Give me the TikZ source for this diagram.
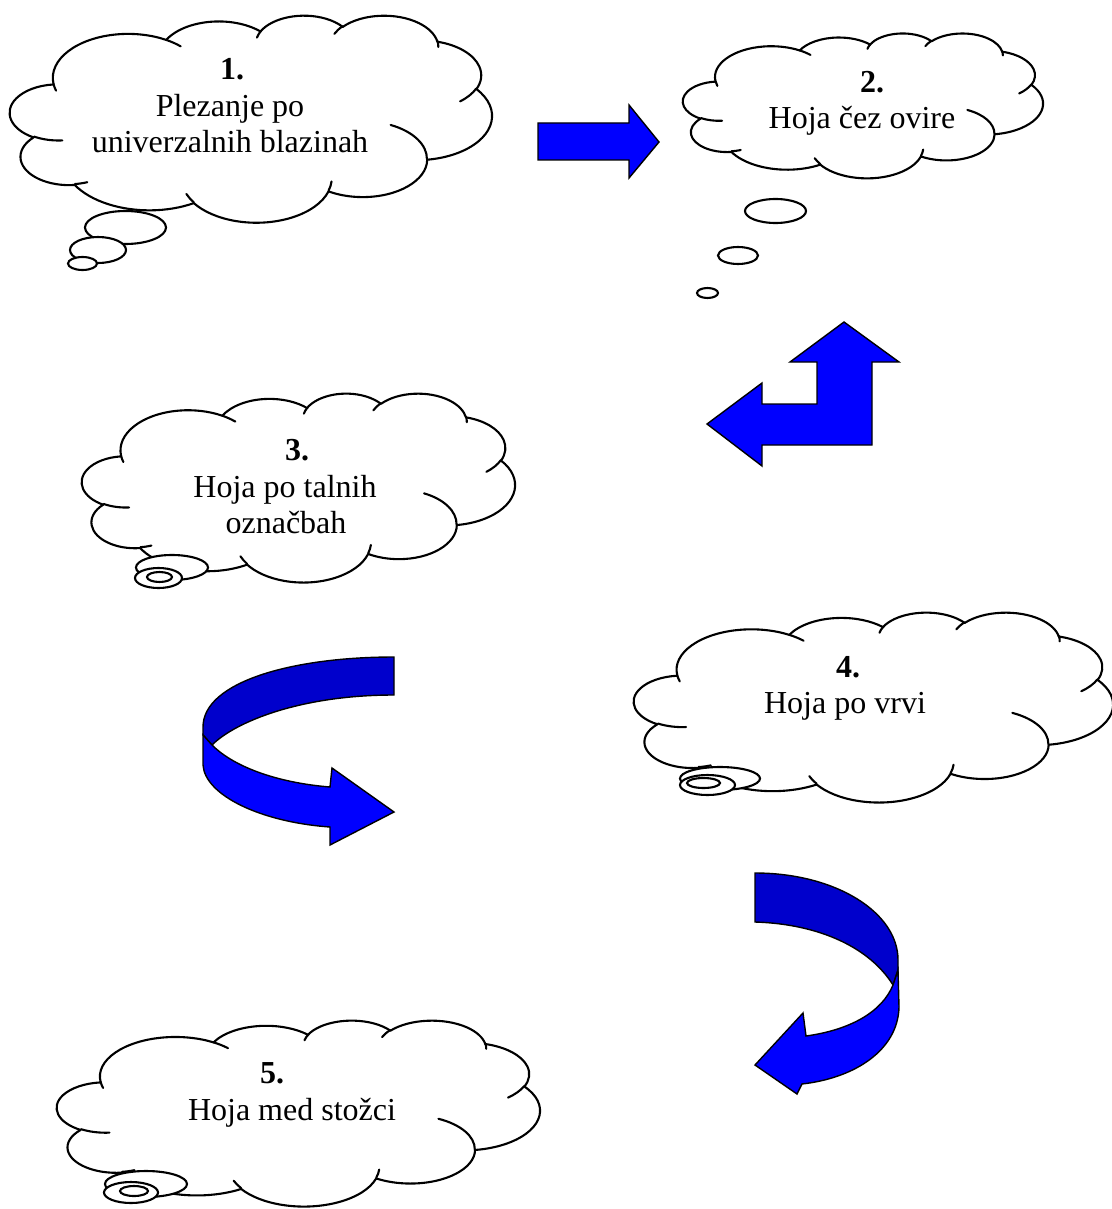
\documentclass[tikz,border=0pt]{standalone}
\usepackage{fontspec}
\setmainfont{Liberation Serif}
\definecolor{brightblue}{RGB}{0,0,255}
\definecolor{darkblue}{RGB}{0,0,204}
\tikzset{
  varc/.style n args={4}{x radius=#1, y radius=#2,
    start angle={atan2((#1/#2)*sin(#3),cos(#3))},
    delta angle={mod(atan2((#1/#2)*sin((#3)+(#4)),cos((#3)+(#4)))-atan2((#1/#2)*sin(#3),cos(#3))+720,360)}},
  cloudline/.style={draw=black, line width=2.1pt, fill=white, line join=round},
  cloudinner/.style={draw=black, line width=2.1pt, line cap=round},
  tailstyle/.style={draw=black, line width=2.1pt, fill=white},
  brightarrow/.style={draw=black, line width=1.4pt, fill=brightblue, line join=miter},
  darkarrow/.style={draw=black, line width=1.4pt, fill=darkblue, line join=miter},
  cloudtxt/.style={font=\fontsize{32}{36}\selectfont, anchor=base, inner sep=0pt},
  cloudnum/.style={font=\fontsize{32}{36}\selectfont\bfseries, anchor=base, inner sep=0pt}
}
% cloud outline in a 10800 x 10800 box (y downwards)
\newcommand{\cloudmainpath}{(975,3592.5)
  arc[varc={1688.25}{2297.5}{-190.48748}{123.78053}]
  arc[varc={1333.25}{1816.75}{-144.10238}{89.94523}]
  arc[varc={1091.25}{1486.25}{-145.80792}{99.72302}]
  arc[varc={1214.25}{1648.75}{-130.98607}{117.24173}]
  arc[varc={1333.25}{1818.25}{-78.70888}{109.02692}]
  arc[varc={1693.75}{2305}{-46.26725}{130.269}]
  arc[varc={1446.25}{1966.75}{0.62502}{114.03333}]
  arc[varc={1688}{2303.75}{22.4516}{115.17255}]
  arc[varc={1930}{2635.75}{66.24263}{75.71102}]
  arc[varc={1090}{1479.5}{-274.94208}{146.73557}]
  arc[varc={1086.25}{1486.25}{-246.8285}{152.51885}]
  -- cycle}
\newcommand{\cloudinnerpath}{
  (1173.25,6544.25) arc[varc={1086.25}{1486.25}{86.742}{26.4295}]
  (1732,8724.75) arc[varc={1090}{1479.5}{73.61047}{11.44747}]
  (4119.5,9772.5) arc[varc={1688}{2303.75}{137.62415}{14.0811}]
  (7206.75,8687.75) arc[varc={1688}{2303.75}{6.45327}{15.99835}]
  (8532.25,5738.5) arc[varc={1446.25}{1966.75}{-70.29235}{70.91737}]
  (10449.5,3838.5) arc[varc={1333.25}{1818.25}{30.31803}{27.7515}]
  (9581,1356.5) arc[varc={1214.25}{1648.75}{-13.74433}{14.8589}]
  (7269.5,988) arc[varc={1214.25}{1648.75}{-149.18145}{18.19537}]
  (5535.25,1180) arc[varc={1091.25}{1486.25}{-163.49427}{17.68635}]
  (3500,1298) arc[varc={1688.25}{2297.5}{-66.70695}{12.31935}]
  (1031.75,3947.25) arc[varc={1688.25}{2297.5}{157.65435}{11.85817}]}
\newcommand{\cloudat}[5]{%
  \pgfmathsetmacro\cloudw{#4/10800}%
  \pgfmathsetmacro\cloudh{#5/10800}%
  \begin{scope}[shift={(#2,#3)}, x=\cloudw pt, y=-\cloudh pt]
    \draw[cloudline] \cloudmainpath;
    \draw[cloudinner] \cloudinnerpath;
    \coordinate (#1) at (5400,5400);
  \end{scope}}
\begin{document}
\begin{tikzpicture}[x=1pt,y=-1pt]
\useasboundingbox (0,0) rectangle (1111,1209);

% clouds
\cloudat{c1}{10}{15}{482}{207}
\cloudat{c2}{683}{33}{360}{145}
\cloudat{c3}{82}{393}{433}{189}
\cloudat{c4}{634}{612}{479}{190}
\cloudat{c5}{57}{1020}{483}{186}

% tails
\draw[tailstyle] (125.5,227.5) ellipse [x radius=40.5, y radius=16.5];
\draw[tailstyle] (98,250) ellipse [x radius=28, y radius=13];
\draw[tailstyle] (82.5,263.5) ellipse [x radius=14.5, y radius=6.5];

\draw[tailstyle] (775.5,211) ellipse [x radius=30.5, y radius=12];
\draw[tailstyle] (738,255.5) ellipse [x radius=20, y radius=8.5];
\draw[tailstyle] (707.5,293) ellipse [x radius=10.5, y radius=5];

\draw[tailstyle] (172,567.5) ellipse [x radius=36, y radius=12.5];
\draw[tailstyle] (158.5,578) ellipse [x radius=23.5, y radius=10];
\draw[tailstyle] (159.5,577) ellipse [x radius=12.5, y radius=5];

\draw[tailstyle] (720,778.5) ellipse [x radius=40, y radius=11.5];
\draw[tailstyle] (707.5,785) ellipse [x radius=27.5, y radius=10];
\draw[tailstyle] (703.5,783) ellipse [x radius=16.5, y radius=5];

\draw[tailstyle] (146,1184) ellipse [x radius=41, y radius=13];
\draw[tailstyle] (131,1192.5) ellipse [x radius=27, y radius=10.5];
\draw[tailstyle] (134,1191) ellipse [x radius=14, y radius=5];

% texts
\node[cloudnum] (n1) at (232,80) {1.};
\node[cloudtxt] (t1a) at (230,117) {Plezanje po};
\node[cloudtxt] (t1b) at (230,153) {univerzalnih blazinah};

\node[cloudnum] (n2) at (872,93) {2.};
\node[cloudtxt] (t2a) at (862,129) {Hoja čez ovire};

\node[cloudnum] (n3) at (297,460) {3.};
\node[cloudtxt] (t3a) at (285,497) {Hoja po talnih};
\node[cloudtxt] (t3b) at (286,533) {označbah};

\node[cloudnum] (n4) at (848,677) {4.};
\node[cloudtxt] (t4a) at (845,713) {Hoja po vrvi};

\node[cloudnum] (n5) at (272,1083) {5.};
\node[cloudtxt] (t5a) at (292,1120) {Hoja med stožci};

% straight arrow
\draw[brightarrow] (538,123) -- (629,123) -- (629,105) -- (659,142) -- (629,178) -- (629,160) -- (538,160) -- cycle;

% bent arrow
\draw[brightarrow] (844,322) -- (899,362) -- (872,362) -- (872,445) -- (762,445) -- (762,466) -- (707,424) -- (762,383) -- (762,404) -- (817,404) -- (817,362) -- (790,362) -- cycle;

% curved arrow (left)
\draw[darkarrow] (394,657) .. controls (292,657) and (203,682) .. (203,727) -- (203,735) -- (212,745) .. controls (235,722) and (300,695) .. (394,695) -- cycle;
\draw[brightarrow] (203,735) -- (203,765) .. controls (205,795) and (260,822) .. (330,827) -- (330,845) -- (394,812) -- (332,768) -- (330,787) .. controls (280,783) and (235,768) .. (212,745) -- cycle;

% curved arrow (right)
\draw[darkarrow] (755,873) .. controls (835,873) and (898,912) .. (898,960) -- (898,970) -- (893,985) .. controls (870,948) and (820,924) .. (755,922) -- cycle;
\draw[brightarrow] (898,970) -- (899,1007) .. controls (898,1050) and (855,1078) .. (802,1084) -- (797,1094) -- (755,1065) -- (803,1013) -- (806,1036) .. controls (850,1030) and (882,1012) .. (893,985) -- cycle;
\end{tikzpicture}
\end{document}
